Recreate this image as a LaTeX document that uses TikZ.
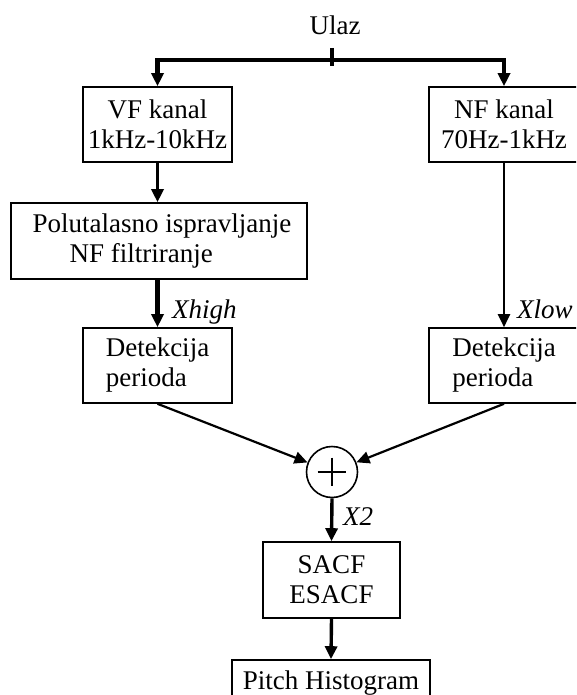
\documentclass[tikz,border=0pt]{standalone}
\usepackage{fontspec}
\setmainfont{Liberation Serif}
\usetikzlibrary{arrows.meta}
\begin{document}
\begin{tikzpicture}[x=1pt,y=-1pt,
  every node/.style={font=\fontsize{27}{30}\selectfont},
  blok/.style={draw, line width=1.6pt, inner sep=0pt, minimum height=75pt},
  lbl/.style={font=\fontsize{27}{30}\selectfont\itshape, anchor=base west, inner sep=0pt},
  tip/.style={-{Triangle[length=13pt,width=12pt]}},
  tanka/.style={tip, line width=2.2pt},
  srednja/.style={tip, line width=3.4pt},
  debela/.style={tip, line width=4.6pt}]
\useasboundingbox (0,0) rectangle (576,695);
\clip (0,0) rectangle (576,695);

% input and the two channel filters
\node[anchor=base, inner sep=0pt] (ulaz) at (335,35) {Ulaz};
\coordinate (split) at (332,60);
\coordinate (tickTop) at (332,48);
\coordinate (tickBot) at (332,66);

\node[blok, minimum width=149pt, align=center] (vf) at (157.5,124.5) {VF kanal\\1kHz-10kHz};
\node[blok, minimum width=150pt, align=center] (nf) at (504,124.5) {NF kanal\\70Hz-1kHz};

% high band processing
\node[blok, minimum width=296pt, minimum height=76pt, align=left] (pol) at (159,241)
  {\hspace*{6pt}Polutalasno ispravljanje\\\hspace*{43pt}NF filtriranje};

% period detectors
\node[blok, minimum width=149pt, align=left] (detL) at (157.5,365.5) {Detekcija\\perioda};
\node[blok, minimum width=150pt, align=left] (detR) at (504,365.5) {Detekcija\\perioda};

% summation
\node[draw, circle, line width=1.6pt, minimum size=51pt, inner sep=0pt] (sum) at (332,472) {};
\draw[line width=1.6pt] ([xshift=12pt]sum.west) -- ([xshift=-12pt]sum.east);
\draw[line width=1.6pt] ([yshift=-12pt]sum.north) -- ([yshift=12pt]sum.south);

\node[blok, minimum width=137pt, minimum height=76pt, align=center] (sacf) at (331.5,580) {SACF\\ESACF};
\node[blok, minimum width=198pt, minimum height=46pt] (pitch) at (331,683) {Pitch Histogram};

% connectors
\draw[line width=4.6pt] (tickTop) -- (tickBot);
\draw[debela] (split) -| (vf.north);
\draw[debela] (split) -| (nf.north);
\draw[srednja] (vf.south) -- (vf.south |- pol.north);
\draw[debela] (detL.north |- pol.south) -- (detL.north);
\draw[tanka] (nf.south) -- (detR.north);
\draw[tanka] (detL.south) -- (sum);
\draw[tanka] (detR.south) -- (sum);
\draw[srednja] (sum.south) -- (sacf.north);
\draw[srednja] (sacf.south) -- (pitch.north);

% signal labels
\node[lbl] (xhigh) at (172,318) {Xhigh};
\node[lbl] (xlow) at (517,318) {Xlow};
\node[lbl] (x2) at (343,525) {X2};
\end{tikzpicture}
\end{document}
